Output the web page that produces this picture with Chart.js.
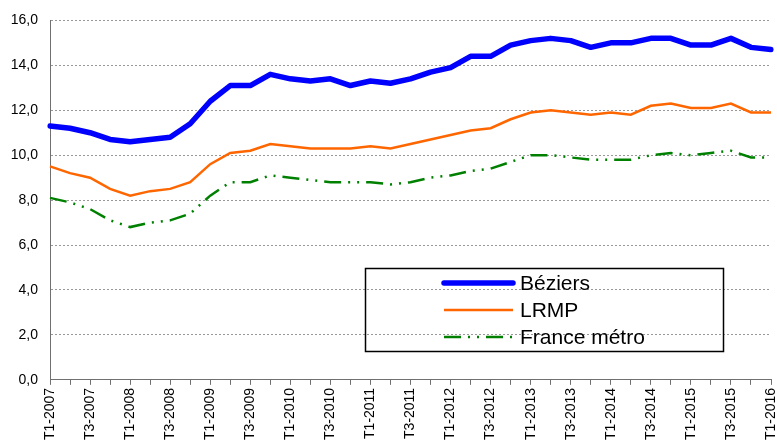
<!DOCTYPE html>
<html>
<head>
<meta charset="utf-8">
<script src="https://cdn.jsdelivr.net/npm/chart.js@4.4.1/dist/chart.umd.min.js"></script>
<style>
  body { margin: 0; background: #fff; }
  canvas { display: block; }
</style>
</head>
<body>
<canvas id="chart" width="777" height="443"></canvas>
<script>
// Trimestres T1-2007 .. T1-2016
const trimestres = [
    'T1-2007', 'T2-2007', 'T3-2007', 'T4-2007',
    'T1-2008', 'T2-2008', 'T3-2008', 'T4-2008',
    'T1-2009', 'T2-2009', 'T3-2009', 'T4-2009',
    'T1-2010', 'T2-2010', 'T3-2010', 'T4-2010',
    'T1-2011', 'T2-2011', 'T3-2011', 'T4-2011',
    'T1-2012', 'T2-2012', 'T3-2012', 'T4-2012',
    'T1-2013', 'T2-2013', 'T3-2013', 'T4-2013',
    'T1-2014', 'T2-2014', 'T3-2014', 'T4-2014',
    'T1-2015', 'T2-2015', 'T3-2015', 'T4-2015',
    'T1-2016'
];

const beziers = [11.3, 11.2, 11.0, 10.7, 10.6, 10.7, 10.8, 11.4, 12.4, 13.1, 13.1, 13.6,
    13.4, 13.3, 13.4, 13.1, 13.3, 13.2, 13.4, 13.7, 13.9, 14.4, 14.4, 14.9,
    15.1, 15.2, 15.1, 14.8, 15.0, 15.0, 15.2, 15.2, 14.9, 14.9, 15.2, 14.8, 14.7];

const lrmp = [9.5, 9.2, 9.0, 8.5, 8.2, 8.4, 8.5, 8.8, 9.6, 10.1, 10.2, 10.5,
    10.4, 10.3, 10.3, 10.3, 10.4, 10.3, 10.5, 10.7, 10.9, 11.1, 11.2, 11.6,
    11.9, 12.0, 11.9, 11.8, 11.9, 11.8, 12.2, 12.3, 12.1, 12.1, 12.3, 11.9, 11.9];

const franceMetro = [8.1, 7.9, 7.6, 7.1, 6.8, 7.0, 7.1, 7.4, 8.2, 8.8, 8.8, 9.1,
    9.0, 8.9, 8.8, 8.8, 8.8, 8.7, 8.8, 9.0, 9.1, 9.3, 9.4, 9.7,
    10.0, 10.0, 9.9, 9.8, 9.8, 9.8, 10.0, 10.1, 10.0, 10.1, 10.2, 9.9, 9.9];

const FONT = "'Liberation Sans', Arial, sans-serif";

// Légende encadrée dans la zone du graphique
const legendBox = {
    id: 'legendBox',
    afterDraw(chart) {
        const ctx = chart.ctx;
        ctx.save();
        ctx.strokeStyle = '#000';
        ctx.lineWidth = 1.5;
        ctx.strokeRect(365.5, 268.5, 358, 83);

        const rows = [283, 310, 337];
        chart.data.datasets.forEach((ds, i) => {
            const y = rows[i];
            ctx.beginPath();
            ctx.strokeStyle = ds.borderColor;
            ctx.lineWidth = ds.borderWidth;
            ctx.lineCap = i === 0 ? 'round' : 'butt';
            ctx.setLineDash(ds.borderDash || []);
            ctx.moveTo(444, y);
            ctx.lineTo(513, y);
            ctx.stroke();
            ctx.setLineDash([]);

            ctx.fillStyle = '#000';
            ctx.font = '21px ' + FONT;
            ctx.textBaseline = 'middle';
            ctx.fillText(ds.label, 520, y + 1);
        });
        ctx.restore();
    }
};

new Chart(document.getElementById('chart'), {
    type: 'line',
    data: {
        labels: trimestres,
        datasets: [
            {
                label: 'Béziers',
                data: beziers,
                borderColor: '#0000FF',
                borderWidth: 5.5,
                borderJoinStyle: 'round',
                borderCapStyle: 'round',
                pointRadius: 0,
                tension: 0
            },
            {
                label: 'LRMP',
                data: lrmp,
                borderColor: '#FF6600',
                borderWidth: 2.5,
                pointRadius: 0,
                tension: 0
            },
            {
                label: 'France métro',
                data: franceMetro,
                borderColor: '#008000',
                borderWidth: 2.5,
                borderDash: [17, 7, 2, 7, 2, 7],
                pointRadius: 0,
                tension: 0
            }
        ]
    },
    options: {
        responsive: false,
        animation: false,
        layout: { padding: { top: 18, right: 6, bottom: 0, left: 0 } },
        plugins: {
            legend: { display: false },
            tooltip: { enabled: false }
        },
        scales: {
            x: {
                offset: false,
                grid: {
                    display: true,
                    drawOnChartArea: false,
                    drawTicks: true,
                    tickLength: 5,
                    color: '#707070'
                },
                border: { display: true, color: '#707070', width: 1 },
                ticks: {
                    autoSkip: false,
                    maxRotation: 90,
                    minRotation: 90,
                    padding: 3,
                    color: '#000',
                    font: { family: FONT, size: 14 },
                    callback: function (value, index) {
                        return index % 2 === 0 ? this.getLabelForValue(value) : '';
                    }
                },
                afterFit: (scale) => {
                    scale.paddingLeft = 0;
                    scale.paddingRight = 0;
                }
            },
            y: {
                min: 0,
                max: 16,
                ticks: {
                    stepSize: 2,
                    padding: 12,
                    color: '#000',
                    font: { family: FONT, size: 14 },
                    callback: (v) => v.toFixed(1).replace('.', ',')
                },
                grid: {
                    drawTicks: false,
                    color: '#999999',
                    lineWidth: 1
                },
                // en v4, border.dash s'applique aux lignes de grille
                border: { display: true, color: '#707070', width: 1, dash: [2, 2] },
                afterFit: (scale) => { scale.width = 50; }
            }
        }
    },
    plugins: [legendBox]
});
</script>
</body>
</html>
